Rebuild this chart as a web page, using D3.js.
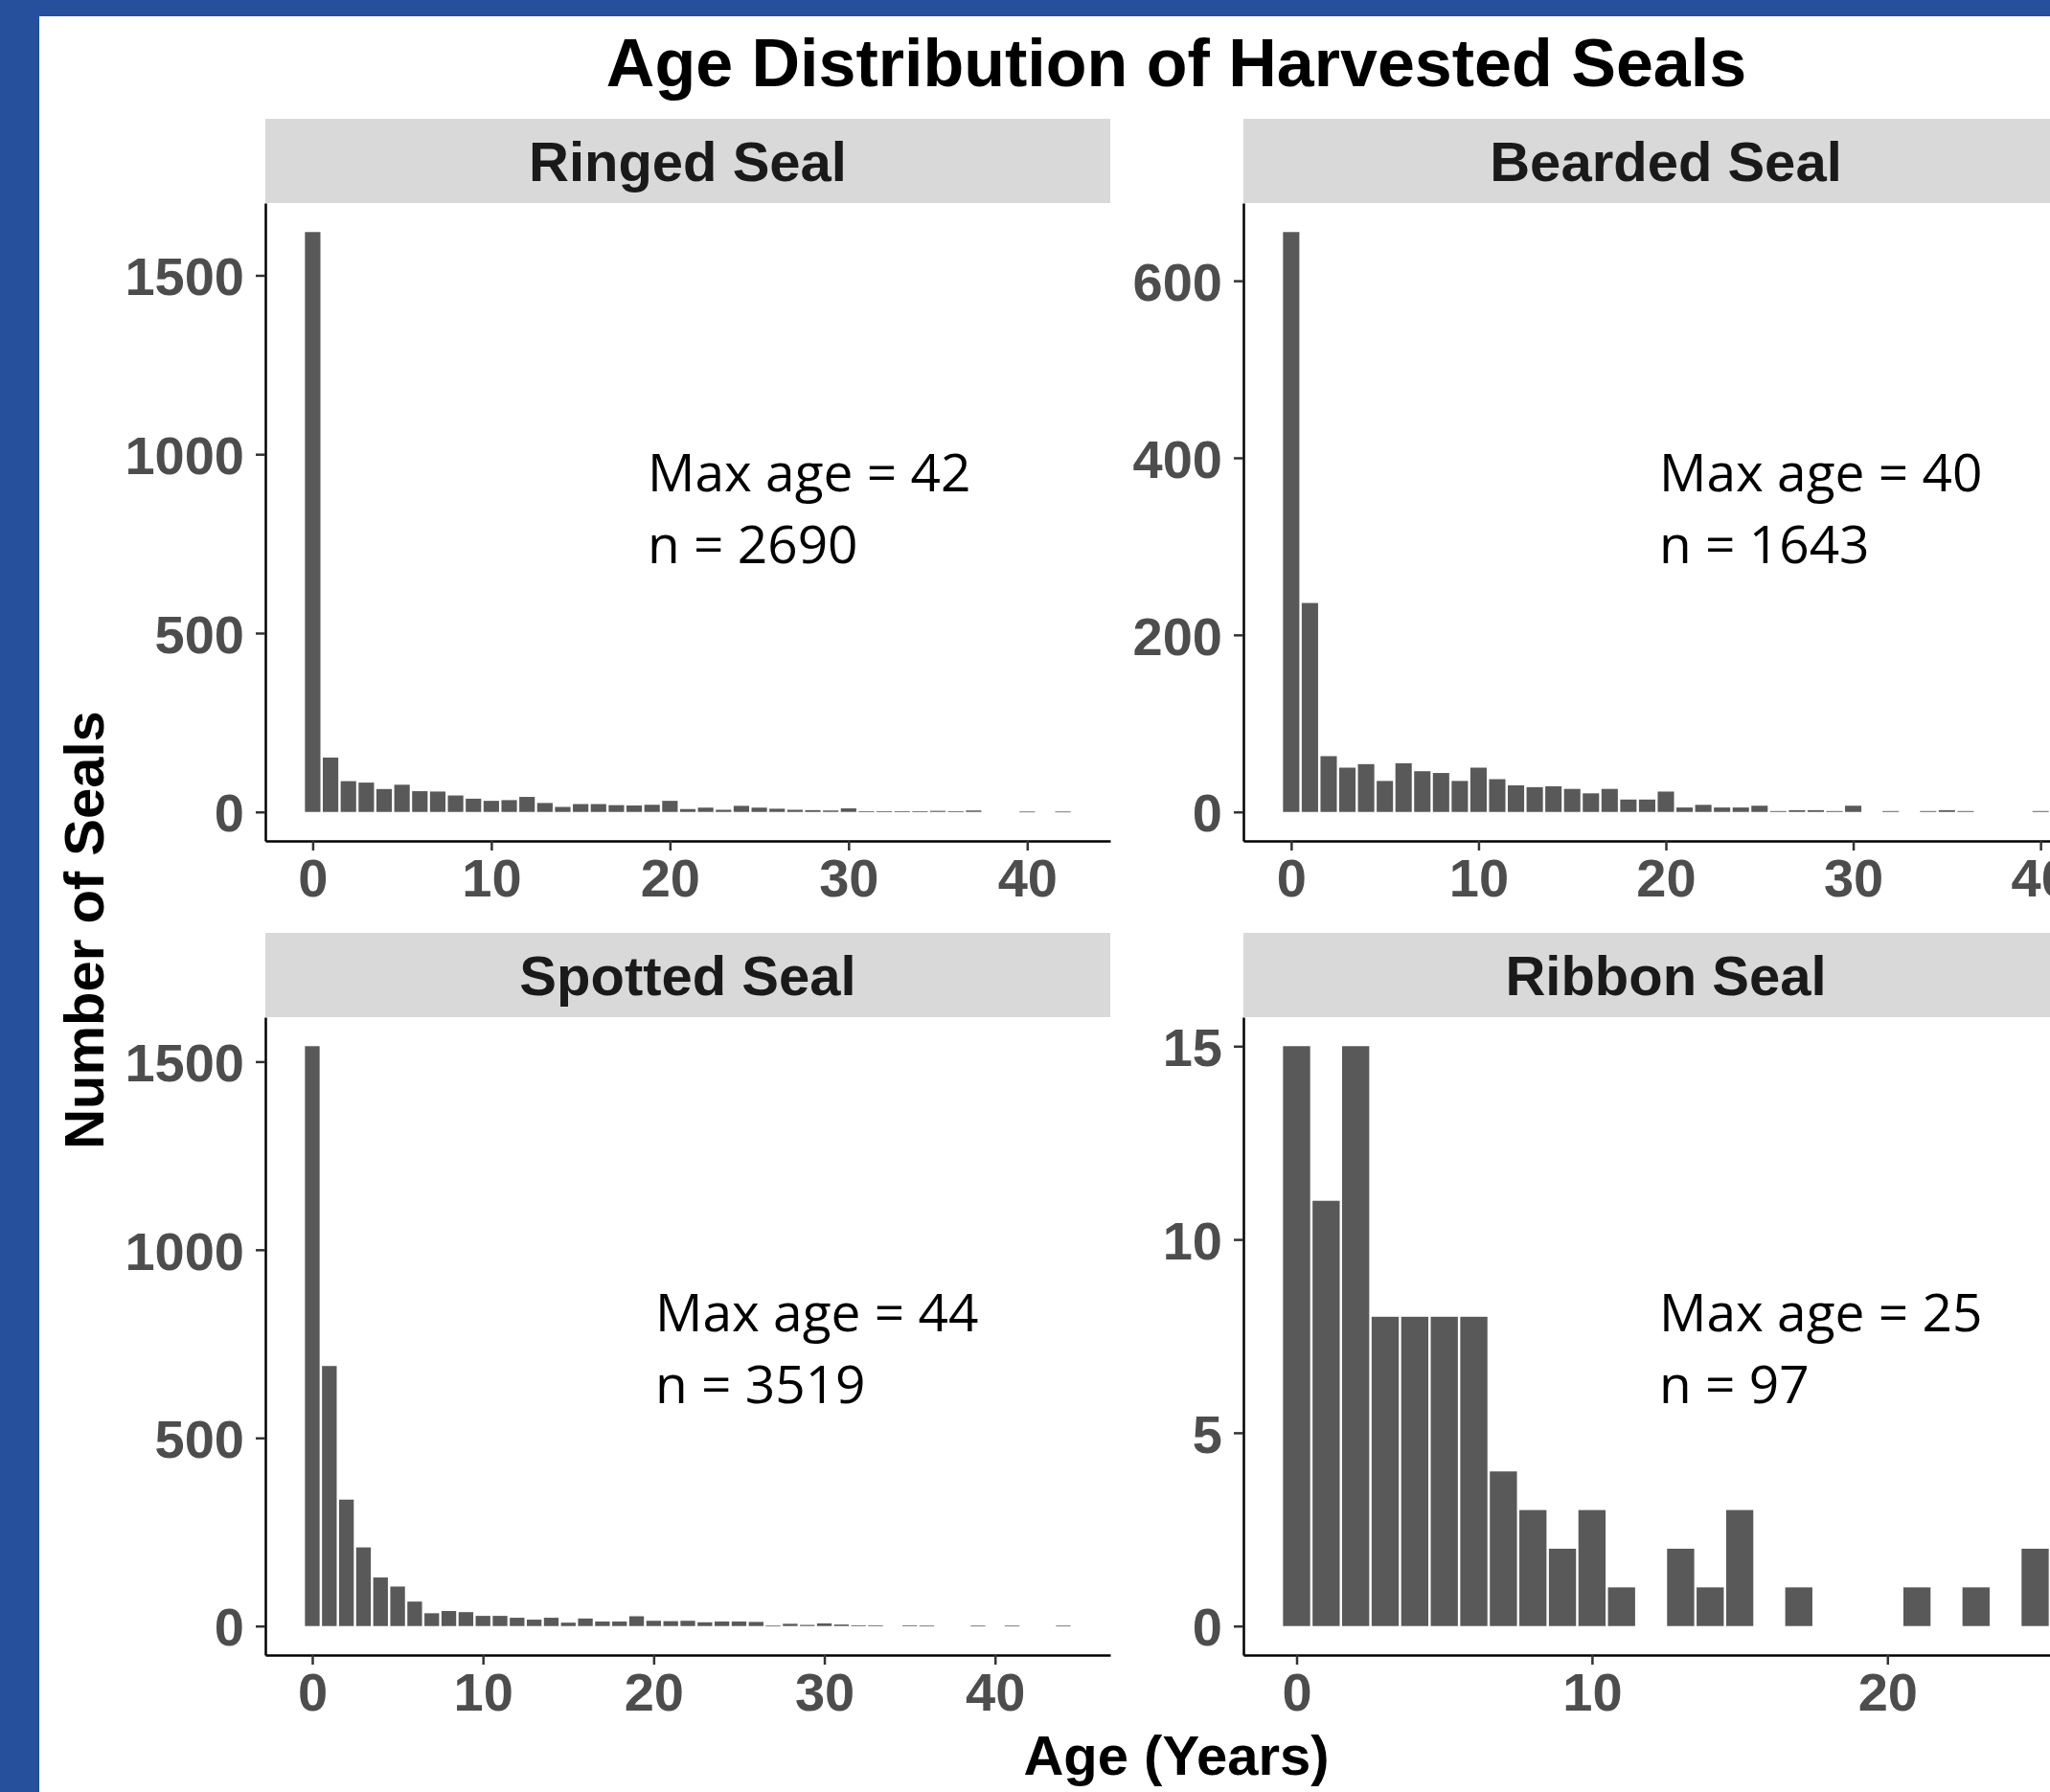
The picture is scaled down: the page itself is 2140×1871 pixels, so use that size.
<!DOCTYPE html>
<html>
<head>
<meta charset="utf-8">
<script src="https://cdn.jsdelivr.net/npm/d3@7"></script>
<style>
  body { margin: 0; background: #ffffff; }
</style>
</head>
<body>
<div id="chart"></div>
<script>
// counts per age (years)
var species = ["Ringed Seal", "Bearded Seal", "Spotted Seal", "Ribbon Seal"];

var ringedCounts = [1621, 152, 86, 82, 64, 76, 58, 57, 46, 37, 31, 33, 42, 25, 14, 22, 22, 19, 18, 20,
  31, 8, 12, 6, 17, 12, 9, 6, 5, 4, 10, 2, 2, 2, 2, 3, 2, 4, 0, 0, 1, 0, 1];
var beardedCounts = [655, 236, 63, 50, 54, 35, 55, 46, 44, 35, 50, 37, 30, 28, 29, 26, 21, 26, 14, 14,
  23, 5, 8, 5, 5, 7, 1, 2, 2, 1, 7, 0, 1, 0, 1, 2, 1, 0, 0, 0, 1];
var spottedCounts = [1541, 691, 336, 209, 129, 105, 65, 34, 40, 37, 27, 27, 22, 17, 22, 9, 20, 12, 12, 26,
  14, 13, 14, 10, 12, 12, 11, 1, 6, 3, 7, 4, 2, 2, 0, 2, 1, 0, 0, 1, 0, 1, 0, 0, 1];
var ribbonCounts = [15, 11, 15, 8, 8, 8, 8, 4, 3, 2, 3, 1, 0, 2, 1, 3, 0, 1, 0, 0, 0, 1, 0, 1, 0, 2];

var maxAges = [42, 40, 44, 25];
var sampleSizes = [2690, 1643, 3519, 97];

var yTickSets = [[0, 500, 1000, 1500], [0, 200, 400, 600], [0, 500, 1000, 1500], [0, 5, 10, 15]];
var xTickSets = [[0, 10, 20, 30, 40], [0, 10, 20, 30, 40], [0, 10, 20, 30, 40], [0, 10, 20]];

var allCounts = [ringedCounts, beardedCounts, spottedCounts, ribbonCounts];

var svgWidth = 2140;
var svgHeight = 1871;

var panelW = 882;
var panelH = 666;
var stripH = 88;
var barGap = 2.5;
var colX = [277, 1298];
var rowY = [212, 1062];
// where the "Max age / n" note sits inside each panel
var noteX = [399, 434, 407, 434];
var noteY = [301, 301, 328, 328];

var boldFont = "'Liberation Sans', Arial, sans-serif";
var noteFont = "'Open Sans', 'Noto Sans', sans-serif";

var svg = d3.select("#chart")
  .append("svg")
  .attr("width", svgWidth)
  .attr("height", svgHeight);

svg.append("rect")
  .attr("width", svgWidth)
  .attr("height", svgHeight)
  .attr("fill", "#ffffff");

// blue slide frame
svg.append("rect").attr("x", 0).attr("y", 0).attr("width", svgWidth).attr("height", 17).attr("fill", "#264f9c");
svg.append("rect").attr("x", 0).attr("y", 0).attr("width", 41).attr("height", svgHeight).attr("fill", "#264f9c");

svg.append("text")
  .attr("x", 1228)
  .attr("y", 90)
  .attr("text-anchor", "middle")
  .style("font-family", boldFont)
  .attr("font-size", 70)
  .attr("font-weight", "bold")
  .attr("fill", "#000000")
  .text("Age Distribution of Harvested Seals");

species.forEach(function(name, i) {
  var counts = allCounts[i];
  var data = counts.map(function(c, age) { return { age: age, count: c }; });
  var px = colX[i % 2];
  var py = rowY[Math.floor(i / 2)];

  // ggplot-like 5% expansion
  var lo = -0.5, hi = counts.length - 0.5;
  var padX = (hi - lo) * 0.05;
  var yMax = d3.max(counts);

  var x = d3.scaleLinear().domain([lo - padX, hi + padX]).range([0, panelW]);
  var y = d3.scaleLinear().domain([-yMax * 0.05, yMax * 1.05]).range([panelH, 0]);

  var g = svg.append("g").attr("transform", `translate(${px}, ${py})`);

  // strip
  g.append("rect")
    .attr("x", 0)
    .attr("y", -stripH)
    .attr("width", panelW)
    .attr("height", stripH)
    .attr("fill", "#d9d9d9");
  g.append("text")
    .attr("x", panelW / 2)
    .attr("y", -stripH / 2 + 21)
    .attr("text-anchor", "middle")
    .style("font-family", boldFont)
    .attr("font-size", 58)
    .attr("font-weight", "bold")
    .attr("fill", "#1a1a1a")
    .text(name);

  // bars
  g.selectAll("rect.bar")
    .data(data.filter(d => d.count > 0))
    .enter()
    .append("rect")
    .attr("class", "bar")
    .attr("x", d => x(d.age - 0.5) + barGap / 2)
    .attr("width", d => x(d.age + 0.5) - x(d.age - 0.5) - barGap)
    .attr("y", d => y(d.count))
    .attr("height", d => Math.max(y(0) - y(d.count), 0.8))
    .attr("fill", "#595959");

  // axes
  var bottomAxis = d3.axisBottom(x).tickValues(xTickSets[i]).tickFormat(d3.format("d"))
    .tickSize(10).tickPadding(8).tickSizeOuter(0);
  var leftAxis = d3.axisLeft(y).tickValues(yTickSets[i]).tickFormat(d3.format("d"))
    .tickSize(10).tickPadding(12).tickSizeOuter(0);

  var xa = g.append("g")
    .attr("transform", `translate(0, ${panelH})`)
    .call(bottomAxis);
  var ya = g.append("g").call(leftAxis);

  [xa, ya].forEach(function(a) {
    a.select(".domain").attr("stroke", "#000000").attr("stroke-width", 2.5);
    a.selectAll(".tick line").attr("stroke", "#333333").attr("stroke-width", 2.5);
    a.selectAll(".tick text")
      .style("font-family", boldFont)
      .attr("font-size", 56)
      .attr("font-weight", "bold")
      .attr("fill", "#4d4d4d");
  });
  ya.selectAll(".tick text").attr("dy", "0.36em");
  xa.selectAll(".tick text").attr("dy", "0.72em");

  // annotation
  var note = g.append("text")
    .attr("x", noteX[i])
    .attr("y", noteY[i])
    .style("font-family", noteFont)
    .attr("font-size", 55)
    .attr("fill", "#000000");
  note.append("tspan").attr("x", noteX[i]).text("Max age = " + maxAges[i]);
  note.append("tspan").attr("x", noteX[i]).attr("dy", 75).text("n = " + sampleSizes[i]);
});

// axis titles
svg.append("text")
  .attr("x", 1228)
  .attr("y", 1853)
  .attr("text-anchor", "middle")
  .style("font-family", boldFont)
  .attr("font-size", 58)
  .attr("font-weight", "bold")
  .attr("fill", "#000000")
  .text("Age (Years)");

svg.append("text")
  .attr("transform", "translate(108, 971) rotate(-90)")
  .attr("text-anchor", "middle")
  .style("font-family", boldFont)
  .attr("font-size", 58)
  .attr("font-weight", "bold")
  .attr("fill", "#000000")
  .text("Number of Seals");
</script>
</body>
</html>
